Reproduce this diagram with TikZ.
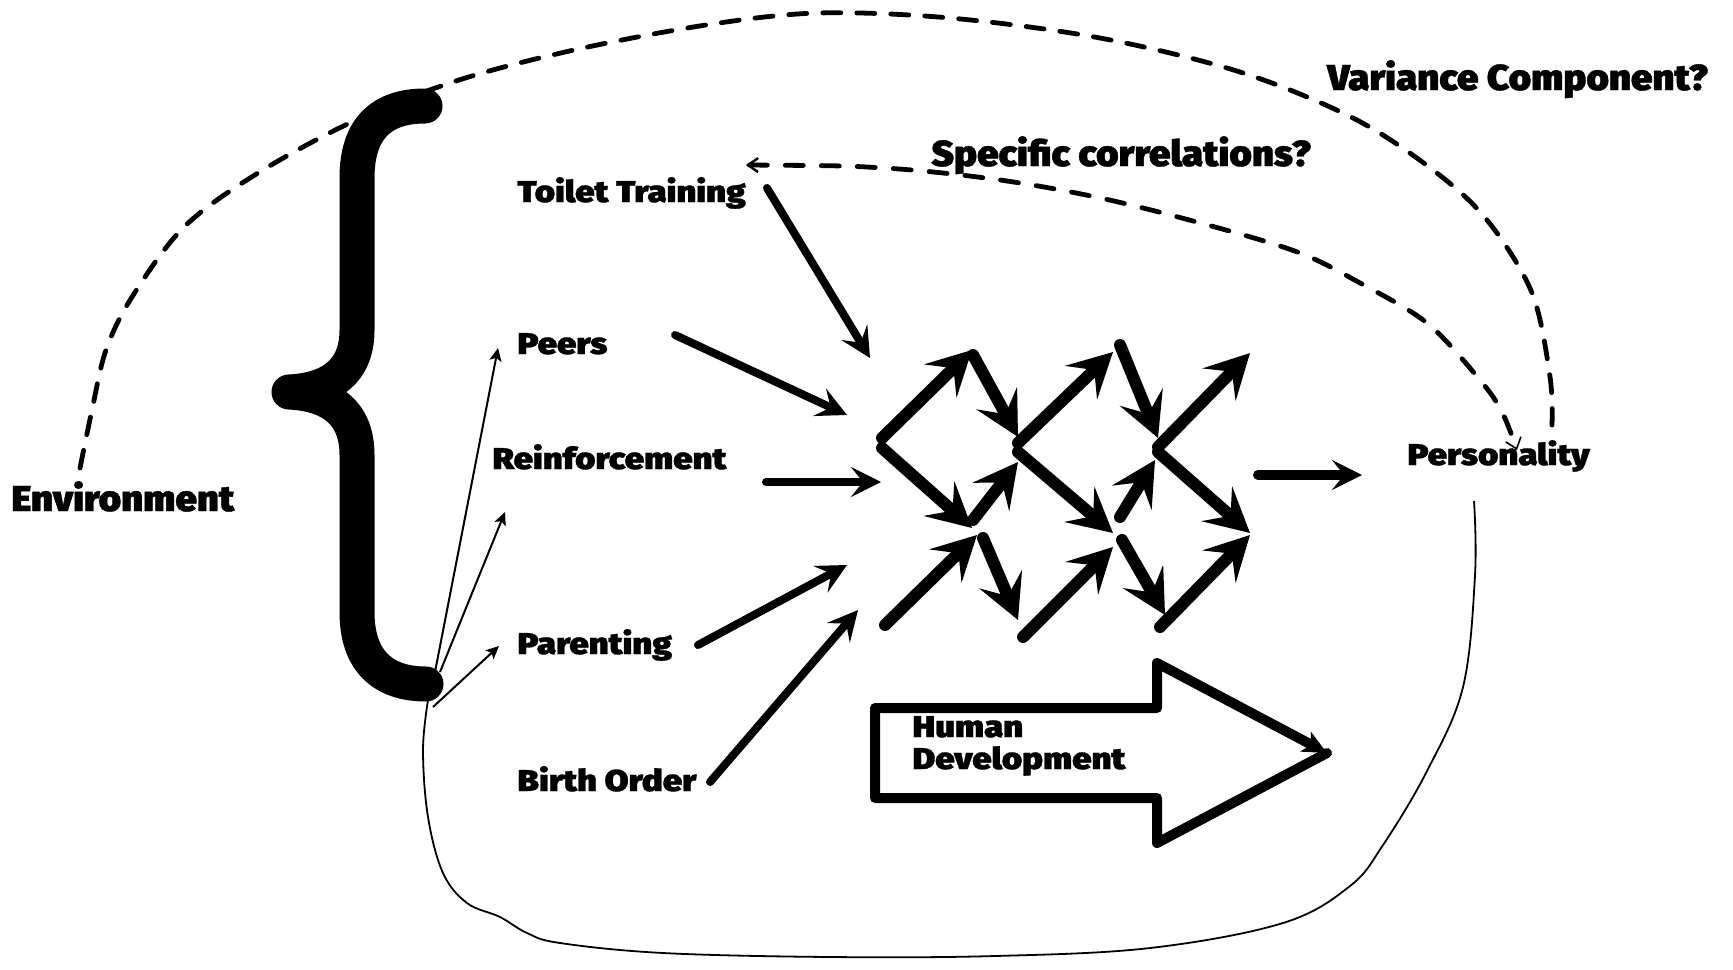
\documentclass[tikz,border=0pt]{standalone}
\usepackage{fontspec}
\usetikzlibrary{arrows.meta}
\IfFontExistsTF{Fira Sans Black}
  {\newfontfamily\factorfont{Fira Sans Black}[FakeStretch=1.16, FakeBold=1]
   \newfontfamily\headfont{Fira Sans Black}[FakeStretch=1.07, FakeBold=1]}
  {\newfontfamily\factorfont{Liberation Sans Bold}[FakeBold=2]
   \newfontfamily\headfont{Liberation Sans Bold}[FakeBold=2]}

\tikzset{
  factor/.style={font=\factorfont\fontsize{15pt}{16pt}\selectfont, inner sep=0pt, anchor=base west},
  heading/.style={font=\headfont\fontsize{18pt}{18pt}\selectfont, inner sep=0pt, anchor=base west},
  gridarrow/.style={line width=6pt, line cap=round,
    -{Stealth[length=22pt,width=23pt,inset=9pt]}},
  feedarrow/.style={line width=4pt, line cap=round,
    -{Stealth[length=15pt,width=15pt,inset=6pt]}},
  outarrow/.style={line width=5pt, line cap=round,
    -{Stealth[length=15pt,width=15pt,inset=6pt]}},
  thinarrow/.style={line width=1pt, -{Stealth[length=6.5pt,width=6pt,inset=1.5pt]}},
  bracestroke/.style={line width=17.5pt, line cap=round, line join=round},
  longdash/.style={line width=2.4pt, line cap=round, dash pattern=on 9pt off 8pt},
  specdash/.style={line width=2.4pt, line cap=round, dash pattern=on 9pt off 9pt},
  hdarrow/.style={line width=5pt, line cap=round, line join=round,
    -{Stealth[length=12pt,width=11pt,inset=3pt]}},
  loopline/.style={line width=0.9pt}
}

\begin{document}
\begin{tikzpicture}[x=0.5pt,y=-0.5pt]
\path[use as bounding box, fill=white] (0,0) rectangle (1733,969);

% labels
\node[heading] (env)    at (11,511)   {Environment};
\node[factor]  (toilet) at (517,202)  {Toilet Training};
\node[factor]  (peers)  at (517,354)  {Peers};
\node[factor]  (reinf)  at (492,469)  {Reinforcement};
\node[factor]  (parent) at (517,654)  {Parenting};
\node[factor]  (birth)  at (517,791)  {Birth Order};
\node[factor]  (pers)   at (1407,465) {Personality};
\node[heading] (spec)   at (931,166)  {Specific correlations?};
\node[heading] (var)    at (1327,90)  {Variance Component?};
\node[factor]  (human)  at (912,737)  {Human};
\node[factor]  (devel)  at (912,769)  {Development};

% curly brace
\coordinate (bracetop) at (425,106);
\coordinate (bracetip) at (289,392);
\coordinate (bracebot) at (426,684);
\draw[bracestroke] (bracetop) .. controls (382,106) and (357,128) .. (357,178)
  -- (357,330) .. controls (357,372) and (330,390) .. (bracetip)
  .. controls (330,394) and (357,412) .. (357,455)
  -- (357,612) .. controls (357,662) and (384,684) .. (bracebot);

% thin arrows from the brace
\coordinate (br1) at (435,672);
\coordinate (br2) at (440,672);
\coordinate (br3) at (433,707);
\coordinate (t1) at (498,348);
\coordinate (t2) at (505,512);
\coordinate (t3) at (499,646);
\draw[thinarrow] (br1) -- (t1);
\draw[thinarrow] (br2) -- (t2);
\draw[thinarrow] (br3) -- (t3);

% feeding arrows
\coordinate (tt-out) at (767,188);  \coordinate (tt-in) at (870,358);
\coordinate (pe-out) at (675,335);  \coordinate (pe-in) at (847,415);
\coordinate (re-out) at (766,482);  \coordinate (re-in) at (881,482);
\coordinate (pa-out) at (698,645);  \coordinate (pa-in) at (847,565);
\coordinate (bo-out) at (710,782);  \coordinate (bo-in) at (858,610);
\draw[feedarrow] (tt-out) -- (tt-in);
\draw[feedarrow] (pe-out) -- (pe-in);
\draw[feedarrow] (re-out) -- (re-in);
\draw[feedarrow] (pa-out) -- (pa-in);
\draw[feedarrow] (bo-out) -- (bo-in);

% developmental lattice
\foreach \n/\sx/\sy/\ex/\ey in {
  1/882/438/972/350, 2/973/355/1018/437, 3/882/448/972/528,
  4/973/520/1018/462, 5/1018/443/1113/352, 6/1120/345/1158/438,
  7/1018/452/1113/533, 8/1120/517/1155/460, 9/1158/447/1250/353,
  10/1158/452/1250/533, 11/885/625/977/535, 12/983/538/1018/620,
  13/1023/637/1113/547, 14/1122/540/1165/615, 15/1160/627/1250/535}{
  \coordinate (g\n s) at (\sx,\sy);
  \coordinate (g\n e) at (\ex,\ey);
  \draw[gridarrow] (g\n s) -- (g\n e);
}

% outcome arrow
\coordinate (out-s) at (1258,475);
\coordinate (out-e) at (1362,475);
\draw[outarrow] (out-s) -- (out-e);

% Human Development block arrow
\coordinate (hd-tip) at (1327,753);
\draw[hdarrow] (hd-tip) -- (1157,843) -- (1157,798) -- (875,798) -- (875,708)
  -- (1157,708) -- (1157,663) -- (hd-tip);

% variance component curve
\coordinate (envtop) at (80,468);
\coordinate (perstop) at (1552,425);
\draw[longdash] plot[smooth, tension=0.55] coordinates {
  (envtop) (92,410) (106,350) (132,297) (184,227) (258,173) (356,120)
  (459,80) (574,50) (706,25) (818,13) (950,18) (1100,38) (1240,72)
  (1353,118) (1433,170) (1487,220) (1532,293) (1550,377) (perstop)};

% specific correlations curve
\coordinate (tt-top) at (746,165);
\coordinate (pers-in) at (1517,450);
\draw[specdash,
  {Straight Barb[length=5pt,width=7pt,line width=1.2pt]}-{Straight Barb[length=5pt,width=8pt,line width=0.8pt]}]
  plot[smooth, tension=0.55] coordinates {
  (tt-top) (884,168) (1000,180) (1105,199) (1215,227) (1300,253) (1360,283)
  (1427,323) (1480,380) (1502,412) (pers-in)};

% enclosing loop
\coordinate (loopstart) at (428,700);
\coordinate (loopend) at (1474,501);
\draw[loopline] plot[smooth, tension=0.6] coordinates {
  (loopstart) (423,750) (428,817) (443,873) (467,903) (500,917) (527,933)
  (560,943) (663,953) (830,957) (995,956) (1150,948) (1283,923) (1350,886)
  (1383,845) (1427,771) (1463,687) (1475,575) (loopend)};
\end{tikzpicture}
\end{document}
